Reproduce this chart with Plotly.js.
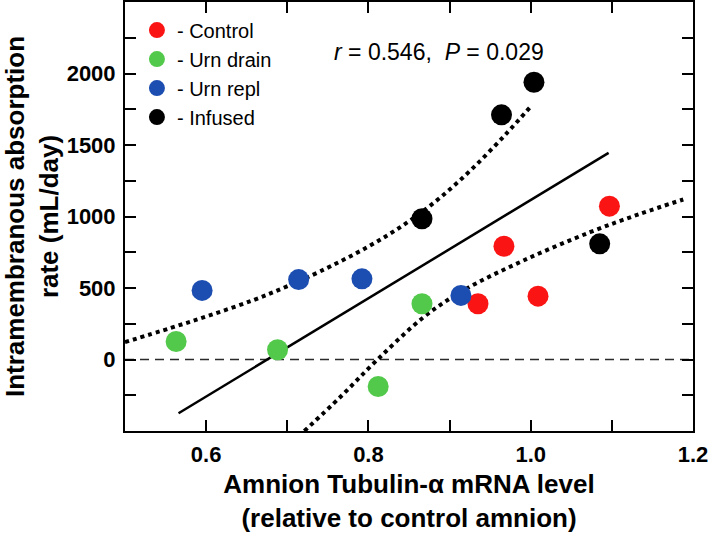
<!DOCTYPE html>
<html>
<head>
<meta charset="utf-8">
<script src="https://cdn.plot.ly/plotly-3.0.1.min.js"></script>
<style>html,body{margin:0;padding:0;background:#fff;}#chart{width:709px;height:533px;}</style>
</head>
<body>
<div id="chart"></div>
<script>
// ---- data ----
const controlX = [0.935, 0.967, 1.009, 1.097];
const controlY = [390, 792, 443, 1072];
const drainX = [0.563, 0.688, 0.812, 0.866];
const drainY = [126, 68, -189, 390];
const replX = [0.595, 0.714, 0.792, 0.914];
const replY = [483, 559, 564, 448];
const infusedX = [0.866, 0.964, 1.004, 1.085];
const infusedY = [984, 1711, 1939, 809];

const fitX = [0.566, 1.096];
const fitY = [-376, 1445];

const upperX = [0.5, 0.556, 0.605, 0.658, 0.699, 0.740, 0.800, 0.847, 0.888, 0.929, 0.970, 1.001];
const upperY = [121, 220, 310, 415, 510, 615, 790, 955, 1130, 1340, 1580, 1776];

const lowerX = [0.721, 0.765, 0.810, 0.868, 0.917, 0.991, 1.073, 1.135, 1.188];
const lowerY = [-500, -264, -7, 296, 483, 692, 890, 1019, 1119];

const zeroX = [0.5, 1.2];
const zeroY = [0, 0];

const seriesNames = ['- Control', '- Urn drain', '- Urn repl', '- Infused'];
const seriesColors = ['#fb1414', '#52c94a', '#1c4db0', '#000000'];

const xTickVals = [0.6, 0.8, 1.0, 1.2];
const xTickText = ['0.6', '0.8', '1.0', '1.2'];
const yTickVals = [0, 500, 1000, 1500, 2000];
const yTickText = ['0', '500', '1000', '1500', '2000'];

const statsText = '<i>r</i> = 0.546,  <i>P</i> = 0.029';

const FONT = 'Liberation Sans, Arial, Helvetica, sans-serif';

const pts = [[controlX, controlY], [drainX, drainY], [replX, replY], [infusedX, infusedY]];

const traces = [
  {x: zeroX, y: zeroY, mode: 'lines', showlegend: false, hoverinfo: 'skip',
   line: {color: '#2a2a2a', width: 1.5, dash: '9px,6px'}},
  {x: upperX, y: upperY, mode: 'lines', showlegend: false, hoverinfo: 'skip',
   line: {color: '#000', width: 4, dash: 'dot', shape: 'spline'}},
  {x: lowerX, y: lowerY, mode: 'lines', showlegend: false, hoverinfo: 'skip',
   line: {color: '#000', width: 4, dash: 'dot', shape: 'spline'}},
  {x: fitX, y: fitY, mode: 'lines', showlegend: false, hoverinfo: 'skip',
   line: {color: '#000', width: 2.5}}
];
pts.forEach((p, i) => {
  traces.push({x: p[0], y: p[1], mode: 'markers', name: seriesNames[i],
    marker: {color: seriesColors[i], size: 21, line: {width: 0}}});
});

const axisCommon = {
  showline: true, linewidth: 2, linecolor: '#000', mirror: 'ticks',
  ticks: 'inside', ticklen: 11, tickwidth: 2, tickcolor: '#000',
  showgrid: false, zeroline: false,
  tickfont: {family: FONT, size: 22, color: '#000', weight: 'bold'}
};

const layout = {
  width: 709, height: 533,
  margin: {l: 125, r: 16, t: 2, b: 102},
  paper_bgcolor: '#fff', plot_bgcolor: '#fff',
  font: {family: FONT, color: '#000'},
  showlegend: true,
  legend: {x: 0.021, y: 0.98, xanchor: 'left', yanchor: 'top',
    bgcolor: 'rgba(0,0,0,0)', borderwidth: 0,
    font: {family: FONT, size: 20, color: '#000'}},
  xaxis: Object.assign({}, axisCommon, {
    range: [0.5, 1.2], tickmode: 'array', tickvals: xTickVals, ticktext: xTickText,
    minor: {dtick: 0.1, tick0: 0.5, ticks: 'inside', ticklen: 11, tickwidth: 2, tickcolor: '#000'},
    ticklabelstandoff: 3,
    title: {text: 'Amnion Tubulin-α mRNA level<br>(relative to control amnion)',
      font: {family: FONT, size: 26, weight: 'bold', color: '#000'}, standoff: 12}
  }),
  yaxis: Object.assign({}, axisCommon, {
    range: [-500, 2500], tickmode: 'array', tickvals: yTickVals, ticktext: yTickText,
    minor: {dtick: 250, tick0: 0, ticks: 'inside', ticklen: 11, tickwidth: 2, tickcolor: '#000'},
    ticklabelstandoff: 3,
    title: {text: 'Intramembranous absorption<br>rate (mL/day)',
      font: {family: FONT, size: 26, weight: 'bold', color: '#000'}, standoff: 8}
  }),
  annotations: [{
    xref: 'paper', yref: 'paper', x: 0.364, y: 0.883, xanchor: 'left', yanchor: 'middle',
    text: statsText, showarrow: false,
    font: {family: FONT, size: 23, color: '#000'}
  }]
};

Plotly.newPlot('chart', traces, layout, {displayModeBar: false, staticPlot: true});
</script>
</body>
</html>
